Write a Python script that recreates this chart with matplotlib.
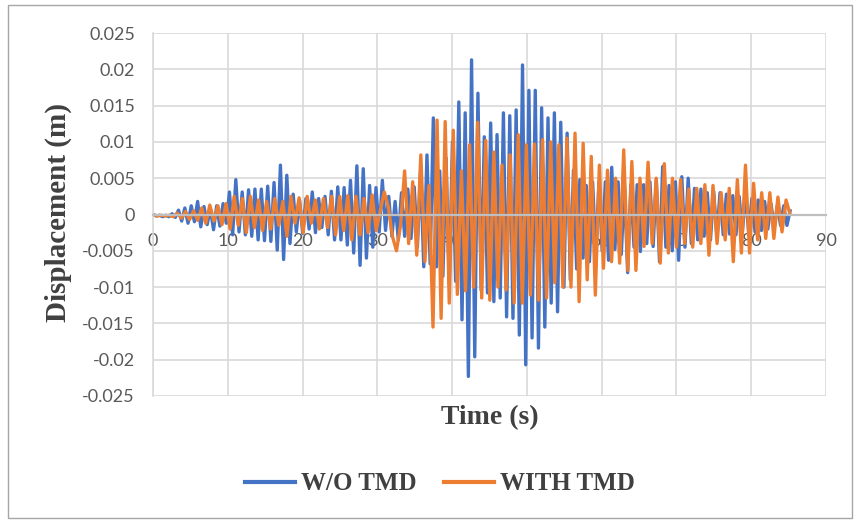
"""
Displacement time history, with and without TMD
"""
import numpy as np
import matplotlib
matplotlib.use('Agg')
import matplotlib.pyplot as plt
from matplotlib.patches import Rectangle

# Peak values (alternating maxima / minima), in m
blue_disp = [
    0.0, -0.0002, -0.0001, -0.0003, -0.0001, -0.0003, 0.0001, -0.0004, 0.0006, -0.0009,
    0.0009, -0.0012, 0.0012, -0.0010, 0.0018, -0.0017, 0.0011, -0.0014, 0.0008, -0.0021,
    0.0012, -0.0016, 0.0015, -0.0012, 0.0031, -0.0028, 0.0048, -0.0024, 0.0031, -0.0028,
    0.0034, -0.0030, 0.0035, -0.0035, 0.0035, -0.0036, 0.0039, -0.0037, 0.0044, -0.0049,
    0.0068, -0.0062, 0.0054, -0.0040, 0.0028, -0.0024, 0.0020, -0.0026, 0.0022, -0.0020,
    0.0031, -0.0025, 0.0022, -0.0018, 0.0025, -0.0028, 0.0032, -0.0035, 0.0038, -0.0035,
    0.0037, -0.0042, 0.0047, -0.0053, 0.0067, -0.0070, 0.0063, -0.0060, 0.0040, -0.0045,
    0.0037, -0.0024, 0.0047, -0.0022, 0.0025, -0.0030, 0.0018, -0.0035, 0.0030, -0.0030,
    0.0035, -0.0033, 0.0038, -0.0045, 0.0062, -0.0072, 0.0082, -0.0068, 0.0133, -0.0072,
    0.0060, -0.0085, 0.0078, -0.0095, 0.0100, -0.0092, 0.0155, -0.0145, 0.0140, -0.0223,
    0.0213, -0.0196, 0.0167, -0.0104, 0.0107, -0.0108, 0.0126, -0.0120, 0.0110, -0.0115,
    0.0140, -0.0141, 0.0136, -0.0143, 0.0144, -0.0166, 0.0206, -0.0207, 0.0171, -0.0170,
    0.0171, -0.0184, 0.0147, -0.0155, 0.0133, -0.0122, 0.0140, -0.0134, 0.0127, -0.0100,
    0.0112, -0.0090, 0.0061, -0.0075, 0.0048, -0.0060, 0.0040, -0.0065, 0.0045, -0.0055,
    0.0045, -0.0050, 0.0045, -0.0063, 0.0065, -0.0048, 0.0045, -0.0055, 0.0040, -0.0080,
    0.0041, -0.0045, 0.0041, -0.0051, 0.0041, -0.0040, 0.0045, -0.0044, 0.0048, -0.0065,
    0.0066, -0.0045, 0.0040, -0.0050, 0.0045, -0.0063, 0.0052, -0.0045, 0.0050, -0.0040,
    0.0036, -0.0035, 0.0035, -0.0030, 0.0030, -0.0035, 0.0032, -0.0030, 0.0030, -0.0028,
    0.0028, -0.0027, 0.0026, -0.0028, 0.0025, -0.0025, 0.0028, -0.0025, 0.0022, -0.0024,
    0.0020, -0.0022, 0.0018, -0.0020, 0.0015, -0.0018, 0.0013, -0.0015, 0.0012, -0.0015,
    0.0005,
]

orange_disp = [
    0.0, -0.0002, -0.0001, -0.0002, -0.0001, -0.0003, 0.0002, -0.0005, 0.0004, -0.0007,
    0.0005, -0.0008, 0.0009, -0.0012, 0.0013, -0.0009, 0.0012, -0.0014, 0.0015, -0.0020,
    0.0025, -0.0015, 0.0022, -0.0025, 0.0025, -0.0018, 0.0020, -0.0022, 0.0018, -0.0020,
    0.0022, -0.0015, 0.0018, -0.0030, 0.0025, -0.0012, 0.0023, -0.0025, 0.0025, -0.0012,
    0.0020, -0.0020, 0.0022, -0.0018, 0.0025, -0.0028, 0.0025, -0.0022, 0.0026, -0.0035,
    0.0025, -0.0028, 0.0022, -0.0025, 0.0027, -0.0022, 0.0005, 0.0031, 0.0010, -0.0030,
    -0.0050, -0.0015, 0.0060, -0.0040, 0.0045, -0.0056, 0.0082, -0.0065, 0.0040, -0.0155,
    0.0130, -0.0143, 0.0128, -0.0122, 0.0116, -0.0110, 0.0060, -0.0105, 0.0096, -0.0100,
    0.0127, -0.0115, 0.0102, -0.0118, 0.0086, -0.0100, 0.0068, -0.0104, 0.0082, -0.0122,
    0.0110, -0.0122, 0.0096, -0.0111, 0.0097, -0.0118, 0.0103, -0.0115, 0.0100, -0.0094,
    0.0096, -0.0100, 0.0105, -0.0100, 0.0112, -0.0120, 0.0098, -0.0090, 0.0080, -0.0111,
    0.0068, -0.0074, 0.0061, -0.0065, 0.0050, -0.0067, 0.0089, -0.0077, 0.0073, -0.0077,
    0.0050, -0.0044, 0.0072, -0.0040, 0.0050, -0.0067, 0.0070, -0.0053, 0.0050, -0.0045,
    0.0048, -0.0040, 0.0035, -0.0045, 0.0036, -0.0040, 0.0041, -0.0056, 0.0040, -0.0040,
    0.0030, -0.0035, 0.0036, -0.0065, 0.0048, -0.0053, 0.0068, -0.0053, 0.0043, -0.0035,
    0.0030, -0.0033, 0.0030, -0.0033, 0.0024, -0.0024, 0.0020, 0.0000,
]

# record length (s), both series sampled evenly over it
t_end = 85.2
blue_time = np.linspace(0, t_end, len(blue_disp))
orange_time = np.linspace(0, t_end, len(orange_disp))

x_ticks = [0, 10, 20, 30, 40, 50, 60, 70, 80, 90]
y_ticks = [0.025, 0.02, 0.015, 0.01, 0.005, 0, -0.005, -0.01, -0.015, -0.02, -0.025]
y_labels = ['0.025', '0.02', '0.015', '0.01', '0.005', '0',
            '-0.005', '-0.01', '-0.015', '-0.02', '-0.025']

W, H = 856, 520
fig = plt.figure(figsize=(W / 100, H / 100), dpi=100)
fig.patches.append(Rectangle((8 / W, 2 / H), 844 / W, 513 / H, transform=fig.transFigure,
                             fill=False, edgecolor='#a6a6a6', lw=1))

ax = fig.add_axes([153 / W, 1 - 396 / H, (826 - 153) / W, (396 - 33) / H])
ax.plot(blue_time, blue_disp, color='#4472C4', lw=2.4, label='W/O TMD')
ax.plot(orange_time, orange_disp, color='#ED7D31', lw=2.4, label='WITH TMD')

ax.set_xlim(0, 90)
ax.set_ylim(-0.025, 0.025)
ax.set_xticks(x_ticks)
ax.set_yticks(y_ticks)
ax.set_yticklabels(y_labels)
ax.grid(True, color='#d9d9d9', lw=1.2)
ax.set_axisbelow(True)

for s in ['top', 'right']:
    ax.spines[s].set_visible(False)
ax.spines['left'].set_color('#d9d9d9')
ax.spines['left'].set_linewidth(1.2)
ax.spines['bottom'].set_position(('data', 0))
ax.spines['bottom'].set_color('#bfbfbf')
ax.spines['bottom'].set_linewidth(1.6)

ax.tick_params(axis='both', length=0, labelsize=13, labelcolor='#595959')
ax.tick_params(axis='x', pad=13)
ax.tick_params(axis='y', pad=13)
for lab in ax.get_xticklabels() + ax.get_yticklabels():
    lab.set_fontfamily('Lato')

serif = 'Liberation Serif'
fig.text(490 / W, 1 - 418 / H, 'Time (s)', ha='center', va='center',
         fontsize=20, fontweight='bold', fontfamily=serif, color='#404040')
fig.text(58 / W, 1 - 212 / H, 'Displacement (m)', ha='center', va='center', rotation=90,
         fontsize=21, fontweight='bold', fontfamily=serif, color='#404040')

leg = fig.legend(loc='center', bbox_to_anchor=(440 / W, 1 - 484 / H), ncol=2, frameon=False,
                 prop={'family': serif, 'weight': 'bold', 'size': 18},
                 handlelength=2.0, handletextpad=0.25, columnspacing=1.1)
for txt in leg.get_texts():
    txt.set_color('#404040')
for line in leg.get_lines():
    line.set_linewidth(3)

fig.savefig('out.png', dpi=100)
